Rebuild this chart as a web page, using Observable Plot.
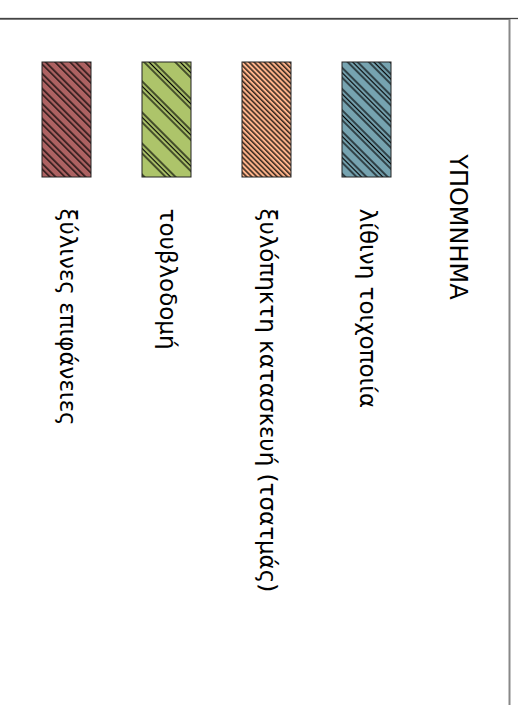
<!DOCTYPE html>
<html><head><meta charset="utf-8">
<script src="https://cdn.jsdelivr.net/npm/d3@7"></script>
<script src="https://cdn.jsdelivr.net/npm/@observablehq/plot@0.6"></script>
<style>body{margin:0;background:#fff}</style>
</head><body><div id="chart"></div>
<script>
// ---- data ----
const title = "ΥΠΟΜΝΗΜΑ";
const categories = ["λίθινη τοιχοποιία", "ξυλόπηκτη κατασκευή (τσατμάς)", "τουβλοδομή", "ξύλινες επιφάνειες"];
const colors = ["#76a3b0", "#ffb48b", "#adc46a", "#ad6262"];

// ---- hatch styles (pattern period, line offsets) ----
const hatch = [
  {period: 15, lines: [1, 4.5, 8]},
  {period: 3.6, lines: [1]},
  {period: 22, lines: [1, 4.5, 8]},
  {period: 10.6, lines: [1, 5]}
];
const pid = i => `hatch-${i}`;

const xOrder = categories.slice().reverse();

const svg = Plot.plot({
  width: 518, height: 705,
  margin: 0, marginTop: 18, marginRight: 9,
  style: {fontFamily: "'DejaVu Sans', sans-serif", background: "white", color: "black"},
  x: {type: "band", domain: xOrder, range: [16.5, 416.5], paddingInner: 0.51, paddingOuter: 0.255, axis: null},
  y: {domain: [0, 1], range: [62, 177], axis: null},
  color: {type: "identity"},
  marks: [
    Plot.frame({stroke: "#888", strokeWidth: 2, insetTop: 0.5, insetLeft: -5, insetBottom: -5}),
    Plot.frame({stroke: "#444", strokeWidth: 1.3, insetLeft: -5, insetBottom: -5, insetRight: -20}),
    Plot.barY(categories, {x: d => d, y1: 0, y2: 1, fill: (d, i) => `url(#${pid(i)})`, stroke: "#222", strokeWidth: 1}),
    Plot.text(categories, {x: d => d, y: 1.27, text: d => d, rotate: 90, textAnchor: "start", lineAnchor: "middle", fontSize: 23, fill: "black"}),
    Plot.text([title], {x: () => categories[0], dx: 91, y: 1.43, text: d => d, rotate: 90, textAnchor: "middle", lineAnchor: "middle", fontSize: 24, fill: "black"})
  ]
});

const defs = d3.select(svg).insert("defs", ":first-child");
categories.forEach((c, i) => {
  const h = hatch[i];
  const p = defs.append("pattern")
    .attr("id", pid(i))
    .attr("patternUnits", "userSpaceOnUse")
    .attr("width", 20).attr("height", h.period)
    .attr("patternTransform", "rotate(45)");
  p.append("rect").attr("width", 20).attr("height", h.period).attr("fill", colors[i]);
  h.lines.forEach(y => p.append("line").attr("x1", 0).attr("x2", 20).attr("y1", y).attr("y2", y)
    .attr("stroke", "#000").attr("stroke-width", 1.2));
});

document.getElementById("chart").appendChild(svg);
</script>
</body></html>
